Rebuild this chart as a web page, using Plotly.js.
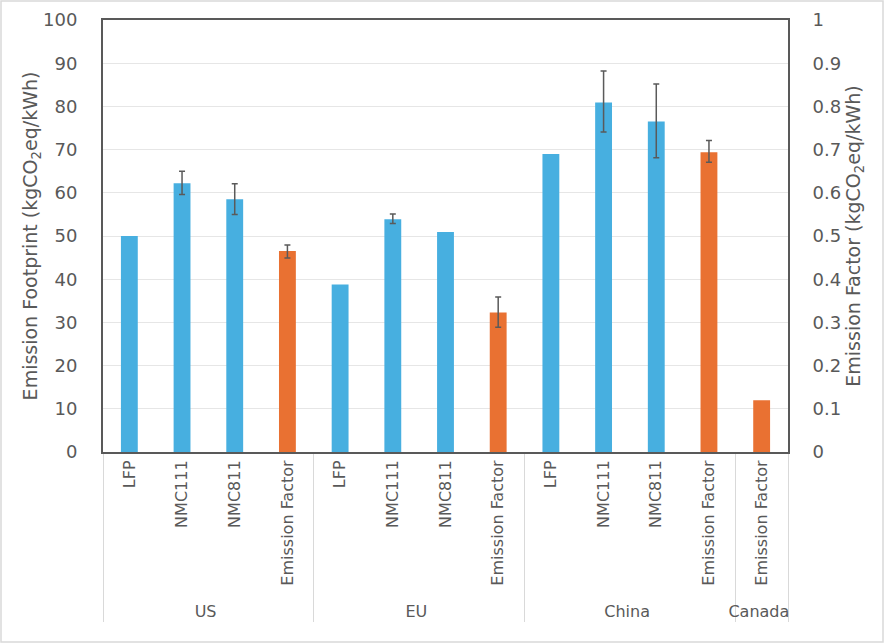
<!DOCTYPE html>
<html>
<head>
<meta charset="utf-8">
<script src="https://cdn.plot.ly/plotly-3.0.1.min.js"></script>
<style>
  body { margin: 0; background: #fff; }
  #chart { width: 884px; height: 643px; }
</style>
</head>
<body>
<div id="chart"></div>
<script>
// battery footprint (left axis); NaN = no error bar
var fpRegions = ['US', 'US', 'US', 'EU', 'EU', 'EU', 'China', 'China', 'China'];
var fpCats = ['LFP', 'NMC111', 'NMC811', 'LFP', 'NMC111', 'NMC811', 'LFP', 'NMC111', 'NMC811'];
var fpValues = [50, 62.2, 58.5, 38.8, 53.9, 50.9, 69, 80.9, 76.5];
var fpErrPlus = [NaN, 2.8, 3.6, NaN, 1.2, NaN, NaN, 7.3, 8.7];
var fpErrMinus = [NaN, 2.6, 3.5, NaN, 1.0, NaN, NaN, 6.8, 8.4];

// grid emission factor (right axis)
var efRegions = ['US', 'EU', 'China', 'Canada'];
var efCats = ['Emission Factor', 'Emission Factor', 'Emission Factor', 'Emission Factor'];
var efValues = [0.465, 0.323, 0.694, 0.12];
var efErrPlus = [0.014, 0.036, 0.027, NaN];
var efErrMinus = [0.016, 0.034, 0.023, NaN];

var allRegions = ['US', 'US', 'US', 'US', 'EU', 'EU', 'EU', 'EU', 'China', 'China', 'China', 'China', 'Canada'];
var allCats = ['LFP', 'NMC111', 'NMC811', 'Emission Factor', 'LFP', 'NMC111', 'NMC811', 'Emission Factor',
  'LFP', 'NMC111', 'NMC811', 'Emission Factor', 'Emission Factor'];

var txt = '#595959';
var fnt = 'DejaVu Sans, sans-serif';

var W = 884, H = 643;
var M = { l: 103, r: 96, t: 20, b: 191 };
var pw = W - M.l - M.r, ph = H - M.t - M.b;

var data = [
  {
    type: 'bar',
    x: [fpRegions, fpCats],
    y: fpValues,
    width: 0.32,
    marker: { color: '#47AFE0' },
    error_y: { type: 'data', symmetric: false, array: fpErrPlus, arrayminus: fpErrMinus,
      color: '#5a5a5a', thickness: 1.5, width: 3 },
    showlegend: false
  },
  {
    type: 'bar',
    x: [efRegions, efCats],
    y: efValues,
    yaxis: 'y2',
    width: 0.32,
    marker: { color: '#E97132' },
    error_y: { type: 'data', symmetric: false, array: efErrPlus, arrayminus: efErrMinus,
      color: '#5a5a5a', thickness: 1.5, width: 3 },
    showlegend: false
  }
];

var layout = {
  width: W,
  height: H,
  margin: M,
  paper_bgcolor: '#fff',
  plot_bgcolor: '#fff',
  barmode: 'overlay',
  font: { family: fnt, color: txt, size: 17 },
  xaxis: {
    type: 'multicategory',
    categoryorder: 'array',
    categoryarray: [allRegions, allCats],
    tickangle: -90,
    tickfont: { size: 16, color: txt },
    showline: true,
    linecolor: '#595959',
    linewidth: 2,
    mirror: true,
    showdividers: true,
    dividercolor: '#d9d9d9',
    dividerwidth: 1,
    ticks: ''
  },
  yaxis: {
    range: [0, 100],
    dtick: 10,
    showgrid: true,
    gridcolor: '#e6e6e6',
    showline: true,
    linecolor: '#595959',
    linewidth: 2,
    mirror: true,
    zeroline: false,
    tickfont: { size: 18, color: txt },
    ticklen: 20,
    ticks: 'outside',
    tickcolor: 'rgba(0,0,0,0)',
    title: { text: 'Emission Footprint (kgCO<sub>2</sub>eq/kWh)', font: { size: 19, color: txt }, standoff: 0 }
  },
  yaxis2: {
    overlaying: 'y',
    side: 'right',
    range: [0, 1],
    dtick: 0.1,
    showgrid: false,
    zeroline: false,
    tickfont: { size: 18, color: txt },
    ticklen: 20,
    ticks: 'outside',
    tickcolor: 'rgba(0,0,0,0)',
    title: { text: 'Emission Factor (kgCO<sub>2</sub>eq/kWh)', font: { size: 19, color: txt }, standoff: 6 }
  },
  // chart-area border
  shapes: [{
    type: 'rect', xref: 'paper', yref: 'paper', layer: 'below',
    x0: -(M.l - 1) / pw, x1: 1 + (M.r - 1) / pw,
    y0: -(M.b - 1) / ph, y1: 1 + (M.t - 1) / ph,
    line: { color: '#d9d9d9', width: 1.5 }
  }]
};

Plotly.newPlot('chart', data, layout, { displayModeBar: false });
</script>
</body>
</html>
